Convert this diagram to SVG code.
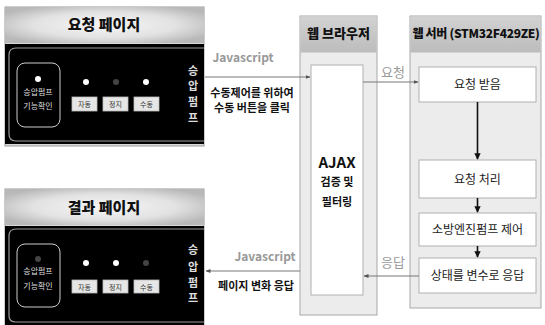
<svg xmlns="http://www.w3.org/2000/svg" width="545" height="325" viewBox="0 0 545 325">
<defs>
<radialGradient id="hdr" cx="0.5" cy="0.5" r="0.6">
<stop offset="0" stop-color="#f6f6f6"/>
<stop offset="0.6" stop-color="#e2e2e2"/>
<stop offset="1" stop-color="#b8b8b8"/>
</radialGradient>
<linearGradient id="hdr2" x1="0" y1="0" x2="0" y2="1">
<stop offset="0" stop-color="#d2d2d2"/>
<stop offset="1" stop-color="#bcbcbc"/>
</linearGradient>
<marker id="ag" viewBox="0 0 10 10" refX="9" refY="5" markerWidth="5" markerHeight="5" orient="auto">
<path d="M0,1 L10,5 L0,9 z" fill="#555"/>
</marker>
<marker id="ab" viewBox="0 0 10 10" refX="9" refY="5" markerWidth="4" markerHeight="4" orient="auto">
<path d="M0,0 L10,5 L0,10 z" fill="#111"/>
</marker>
</defs>
<style>
text{font-family:"Noto Sans CJK KR","Liberation Sans",sans-serif;text-anchor:middle}
.hd{font-size:15px;font-weight:900;fill:#111}
.frame{fill:#d8d8d8;stroke:#9a9a9a;stroke-width:1}
.body{fill:#000}
.rim{fill:none;stroke:#9a9a9a;stroke-width:1.2}
.w{fill:#fff}
.d{fill:#444}
.btn{fill:#e6e6e6;stroke:#bbb;stroke-width:0.8}
.bt{font-size:7px;fill:#333}
.sm{font-size:8px;fill:#ddd}
.vt{font-size:11px;font-weight:bold;fill:#ddd}
.js{font-size:12px;font-weight:bold;fill:#999}
.lb{font-size:11px;font-weight:bold;fill:#111}
.gl{font-size:13px;fill:#999}
.panel{fill:#ececec;stroke:#a8a8a8;stroke-width:1}
.box{fill:#fff;stroke:#b0b0b0;stroke-width:1}
.bx{font-size:12px;fill:#222}
.cg{stroke:#777;stroke-width:1;fill:none}
.cb{stroke:#111;stroke-width:1.6;fill:none}
</style>

<g id="request-page">
<rect class="frame" x="5" y="7" width="199" height="139"/>
<rect x="5" y="7" width="199" height="36" fill="url(#hdr)"/>
<text class="hd" x="104" y="30">요청 페이지</text>
<rect class="body" x="5" y="44" width="199" height="100"/>
<path class="rim" d="M204,48 L16,48 Q9,48 9,55 L9,134 Q9,141 16,141 L204,141"/>
<rect x="17" y="63" width="43" height="64" rx="8" fill="none" stroke="#ccc" stroke-width="1"/>
<circle class="w" cx="38" cy="79" r="3"/>
<text class="sm" x="38" y="95">승압펌프</text>
<text class="sm" x="38" y="109">기능확인</text>
<circle class="w" cx="86" cy="82" r="3"/>
<circle class="d" cx="116" cy="82" r="3"/>
<circle class="w" cx="146" cy="82" r="3"/>
<rect class="btn" x="72" y="97" width="25" height="14"/>
<text class="bt" x="84.5" y="107">자동</text>
<rect class="btn" x="103" y="97" width="25" height="14"/>
<text class="bt" x="115.5" y="107">정지</text>
<rect class="btn" x="134" y="97" width="25" height="14"/>
<text class="bt" x="146.5" y="107">수동</text>
<text class="vt" x="193" y="75">승</text>
<text class="vt" x="193" y="90">압</text>
<text class="vt" x="193" y="106">펌</text>
<text class="vt" x="193" y="122">프</text>
</g>

<g id="result-page">
<rect class="frame" x="5" y="189" width="199" height="136"/>
<rect x="5" y="189" width="199" height="36" fill="url(#hdr)"/>
<text class="hd" x="104" y="213">결과 페이지</text>
<rect class="body" x="5" y="226" width="199" height="99"/>
<path class="rim" d="M204,229 L16,229 Q9,229 9,236 L9,316 Q9,322 16,322 L204,322"/>
<rect x="17" y="244" width="43" height="63" rx="8" fill="none" stroke="#ccc" stroke-width="1"/>
<circle class="d" cx="38" cy="259" r="3"/>
<text class="sm" x="38" y="274">승압펌프</text>
<text class="sm" x="38" y="289">기능확인</text>
<circle class="w" cx="86" cy="263" r="3"/>
<circle class="w" cx="116" cy="263" r="3"/>
<circle class="d" cx="146" cy="263" r="3"/>
<rect class="btn" x="72" y="280" width="25" height="13"/>
<text class="bt" x="84.5" y="289.5">자동</text>
<rect class="btn" x="103" y="280" width="25" height="13"/>
<text class="bt" x="115.5" y="289.5">정지</text>
<rect class="btn" x="134" y="280" width="25" height="13"/>
<text class="bt" x="146.5" y="289.5">수동</text>
<text class="vt" x="193" y="254">승</text>
<text class="vt" x="193" y="271">압</text>
<text class="vt" x="193" y="287">펌</text>
<text class="vt" x="193" y="302">프</text>
</g>

<g id="web-browser">
<rect class="panel" x="300" y="16" width="77" height="299"/>
<rect x="300.5" y="16.5" width="76" height="36" fill="url(#hdr2)"/>
<text class="hd" x="338.5" y="38" style="font-size:13px">웹 브라우저</text>
<rect class="box" x="311" y="65" width="52" height="230"/>
<text x="337" y="168" style="font-size:15px;font-weight:bold;fill:#111">AJAX</text>
<text class="lb" x="337" y="186">검증 및</text>
<text class="lb" x="337" y="206">필터링</text>
</g>

<g id="web-server">
<rect class="panel" x="410" y="16" width="131" height="292"/>
<rect x="410.5" y="16.5" width="130" height="36" fill="url(#hdr2)"/>
<text x="476" y="38" style="font-size:12px;font-weight:900;fill:#111;letter-spacing:-0.3px">웹 서버 (STM32F429ZE)</text>
</g>

<g id="req-recv">
<rect class="box" x="419" y="67" width="117" height="35"/>
<text class="bx" x="477.5" y="89">요청 받음</text>
</g>
<g id="req-proc">
<rect class="box" x="419" y="160" width="117" height="38"/>
<text class="bx" x="477.5" y="184">요청 처리</text>
</g>
<g id="pump-ctrl">
<rect class="box" x="419" y="213" width="117" height="33"/>
<text class="bx" x="477.5" y="234">소방엔진펌프 제어</text>
</g>
<g id="state-resp">
<rect class="box" x="419" y="258" width="117" height="35"/>
<text class="bx" x="477.5" y="280">상태를 변수로 응답</text>
</g>

<g id="connectors">
<line class="cg" x1="205" y1="77" x2="310" y2="77" marker-end="url(#ag)"/>
<text class="js" x="243" y="62">Javascript</text>
<text class="lb" x="252" y="97">수동제어를 위하여</text>
<text class="lb" x="252" y="112">수동 버튼을 클릭</text>

<line class="cg" x1="300" y1="271" x2="206" y2="271" marker-end="url(#ag)"/>
<text class="js" x="265" y="261">Javascript</text>
<text class="lb" x="256" y="290">페이지 변화 응답</text>

<line class="cg" x1="363" y1="82" x2="418" y2="82" marker-end="url(#ag)"/>
<text class="gl" x="393" y="77">요청</text>

<line class="cg" x1="419" y1="276" x2="364" y2="276" marker-end="url(#ag)"/>
<text class="gl" x="393" y="267">응답</text>

<line class="cb" x1="477.5" y1="102" x2="477.5" y2="159" marker-end="url(#ab)"/>
<line class="cb" x1="477.5" y1="198" x2="477.5" y2="212" marker-end="url(#ab)"/>
<line class="cb" x1="477.5" y1="246" x2="477.5" y2="257" marker-end="url(#ab)"/>
</g>
</svg>
